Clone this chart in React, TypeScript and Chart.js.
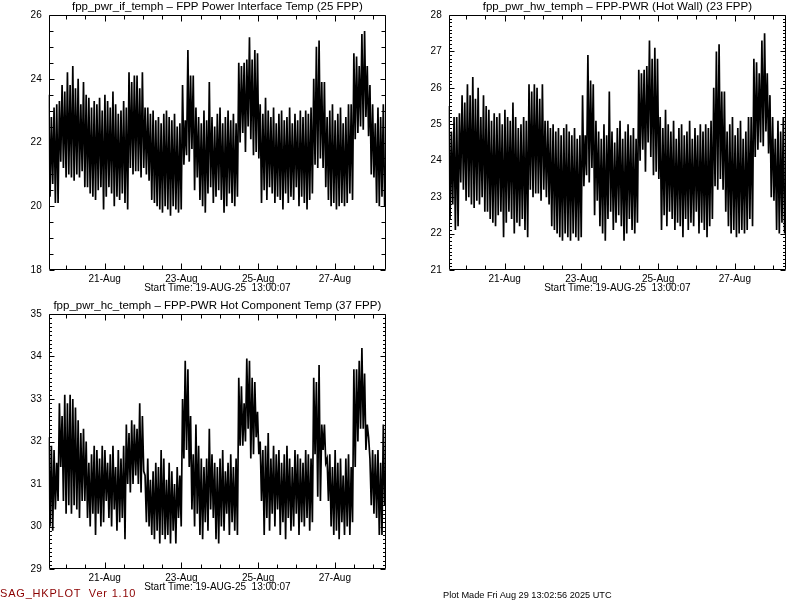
import React, { useEffect, useRef } from "react";
import { Chart, registerables } from "chart.js";

Chart.register(...registerables);

// ---- time axis (hours since start 19-AUG-25 13:00:07) ----
const SPAN_HOURS = 211;
const X_TICK_HOURS = [11, 23, 35, 47, 59, 71, 83, 95, 107, 119, 131, 143, 155, 167, 179, 191, 203];
const X_LABEL_HOURS = [35, 83, 131, 179];
const X_LABELS = ["21-Aug", "23-Aug", "25-Aug", "27-Aug"];
const X_TITLE = "Start Time: 19-AUG-25  13:00:07";

// ---- fpp_pwr_if_temph : orbit peaks / troughs ----
const IF_HI = [
  23.5, 22.8, 23.1, 23.2, 23.3, 23.8, 23.6, 24.2, 23.8, 24.4,
  23.7, 24.0, 23.2, 23.9, 23.5, 23.4, 23.1, 23.3, 23.2, 23.4,
  23.0, 23.5, 23.3, 23.1, 23.6, 23.2, 22.9, 23.0, 23.3, 23.1,
  24.2, 23.9, 24.1, 24.1, 23.7, 24.2, 23.1, 23.1, 22.9, 23.0,
  22.7, 22.8, 22.6, 22.9, 23.0, 22.8, 22.7, 22.9, 22.5, 22.6,
  23.8, 22.7, 24.9, 24.1, 24.1, 23.1, 22.8, 22.6, 23.0, 22.7,
  23.9, 22.8, 22.5, 22.9, 23.1, 22.6, 22.8, 23.0, 22.7, 22.9,
  22.6, 24.5, 24.4, 24.5, 24.6, 25.3, 24.6, 24.9, 24.8, 23.2,
  22.9, 23.4, 23.0, 22.8, 23.1, 22.6, 22.9, 23.0, 22.7, 22.8,
  23.1, 22.6, 22.9, 22.7, 23.0, 22.8, 23.0, 22.9, 23.1, 24.0,
  25.0, 25.2, 23.9, 23.9, 22.8, 23.0, 23.2, 22.7, 22.9, 23.1,
  22.6, 22.8, 23.2, 23.2, 24.8, 24.7, 24.4, 25.4, 25.5, 24.4,
  23.8, 23.2, 22.6, 23.1, 22.8, 23.2,
];
const IF_LO = [
  20.3, 20.7, 20.1, 20.1, 21.4, 21.2, 20.9, 21.0, 20.9, 20.8,
  21.0, 20.9, 21.1, 20.6, 20.6, 20.4, 20.3, 20.2, 20.5, 20.6,
  19.9, 20.3, 20.6, 20.4, 20.0, 20.3, 20.2, 20.4, 20.1, 19.9,
  21.2, 21.0, 21.1, 21.1, 20.9, 21.2, 21.0, 20.8, 20.2, 20.1,
  20.0, 19.9, 19.8, 20.0, 19.9, 19.7, 20.0, 19.9, 19.8, 19.9,
  21.3, 21.6, 21.4, 21.8, 20.5, 20.9, 20.2, 20.0, 19.8, 20.4,
  20.6, 20.1, 20.3, 20.5, 20.2, 19.8, 20.0, 20.4, 20.1, 20.0,
  20.3, 22.0, 22.3, 21.7, 22.5, 22.1, 21.6, 21.7, 21.5, 20.1,
  20.5, 20.2, 20.6, 20.4, 20.1, 20.3, 20.2, 19.9, 20.4, 20.1,
  20.3, 20.2, 20.6, 20.0, 20.3, 20.1, 19.9, 20.2, 20.4, 21.3,
  21.2, 21.5, 21.2, 20.6, 20.2, 20.0, 20.1, 19.9, 20.0, 20.1,
  20.0, 20.1, 20.4, 20.2, 22.1, 22.3, 22.5, 22.4, 22.8, 22.2,
  21.0, 20.9, 20.1, 20.0, 20.3, 20.0,
];

// ---- fpp_pwr_hw_temph ----
const HW_HI = [
  25.5, 24.8, 25.2, 25.2, 25.3, 25.8, 25.6, 26.1, 25.8, 26.3,
  25.7, 26.0, 25.2, 25.8, 25.5, 25.4, 25.1, 25.3, 25.2, 25.3,
  25.0, 25.4, 25.2, 25.1, 25.6, 25.2, 24.9, 25.0, 25.2, 25.1,
  26.1, 25.9, 26.1, 26.0, 25.7, 26.1, 25.1, 25.1, 24.9, 25.0,
  24.8, 24.9, 24.7, 24.9, 25.0, 24.8, 24.7, 24.9, 24.6, 24.7,
  25.8, 24.7, 26.9, 26.2, 26.1, 25.1, 24.8, 24.6, 25.0, 24.7,
  25.9, 24.8, 24.5, 24.9, 25.1, 24.6, 24.8, 25.0, 24.7, 24.9,
  24.6, 26.5, 26.4, 26.5, 26.6, 27.3, 26.8, 27.1, 26.8, 25.2,
  24.9, 25.4, 25.0, 24.8, 25.1, 24.6, 24.9, 25.0, 24.7, 24.8,
  25.1, 24.6, 24.9, 24.7, 25.0, 24.8, 25.0, 24.9, 25.1, 26.0,
  27.0, 27.2, 25.9, 25.9, 24.8, 25.0, 25.2, 24.7, 24.9, 25.1,
  24.6, 24.8, 25.2, 25.2, 26.8, 26.7, 26.4, 27.3, 27.5, 26.4,
  25.8, 25.2, 24.6, 25.1, 24.8, 25.2,
];
const HW_LO = [
  22.4, 22.8, 22.1, 22.2, 23.4, 23.2, 22.9, 23.0, 22.8, 22.7,
  22.9, 22.8, 23.0, 22.6, 22.6, 22.4, 22.3, 22.2, 22.5, 22.6,
  21.9, 22.3, 22.6, 22.4, 22.0, 22.3, 22.2, 22.4, 22.1, 21.9,
  23.2, 23.0, 23.1, 23.1, 22.9, 23.2, 23.0, 22.8, 22.2, 22.1,
  22.0, 21.9, 21.8, 22.0, 21.9, 21.8, 22.0, 21.9, 21.8, 21.9,
  23.3, 23.6, 23.4, 23.8, 22.5, 22.9, 22.2, 22.0, 21.8, 22.4,
  22.6, 22.1, 22.3, 22.5, 22.2, 21.8, 22.0, 22.4, 22.1, 22.0,
  22.3, 24.0, 24.3, 23.7, 24.5, 24.1, 23.6, 23.7, 23.5, 22.1,
  22.5, 22.2, 22.6, 22.4, 22.1, 22.3, 22.2, 21.9, 22.4, 22.1,
  22.3, 22.2, 22.6, 22.0, 22.3, 22.1, 21.9, 22.2, 22.4, 23.3,
  23.2, 23.5, 23.2, 22.6, 22.2, 22.0, 22.1, 21.9, 22.0, 22.1,
  22.0, 22.1, 22.4, 22.2, 24.1, 24.3, 24.5, 24.4, 24.8, 24.2,
  23.0, 22.9, 22.1, 22.0, 22.3, 22.0,
];

// ---- fpp_pwr_hc_temph ----
const HC_HI = [
  32.1, 31.9, 31.8, 31.5, 32.9, 32.6, 33.1, 32.9, 33.1, 33.0,
  32.8, 32.5, 32.2, 32.3, 32.0, 31.5, 31.7, 31.9, 31.8, 31.6,
  31.9, 31.8, 31.5, 31.7, 31.9, 31.4, 31.8, 31.6, 31.9, 32.4,
  32.2, 32.5, 32.4, 32.3, 32.9, 32.6, 31.2, 31.6, 31.1, 31.3,
  31.5, 31.4, 31.8, 31.6, 31.1, 31.5, 31.3, 31.0, 31.4, 31.2,
  33.0, 33.9, 33.7, 32.6, 31.7, 32.4, 31.9, 31.6, 31.4, 31.6,
  32.3, 31.7, 31.5, 31.4, 31.6, 31.8, 31.3, 31.5, 31.7, 31.4,
  31.6, 33.5, 33.3, 32.9, 33.95, 33.9, 33.5, 33.4, 32.7, 32.0,
  31.8, 31.9, 32.2, 31.6, 31.9, 31.7, 31.8, 31.5, 31.7, 31.9,
  31.6, 31.4, 31.8, 31.7, 31.6, 31.5, 31.8, 31.7, 31.6, 33.5,
  33.4, 33.8, 32.4, 32.4, 31.6, 31.7, 31.4, 31.8, 31.5, 31.6,
  31.2, 31.6, 31.7, 31.4, 33.7, 33.7, 33.9, 34.2, 33.6, 32.4,
  31.6, 31.8, 31.7, 31.8, 31.5, 32.4,
];
const HC_LO = [
  30.0, 29.9, 30.4, 30.6, 31.4, 30.6, 30.3, 30.5, 30.3, 30.5,
  30.4, 30.2, 30.6, 30.6, 30.2, 30.0, 30.3, 29.8, 30.3, 30.0,
  30.1, 30.6, 30.2, 30.0, 30.4, 29.9, 30.1, 30.2, 29.7, 31.0,
  30.8, 31.0, 31.2, 31.0, 30.8, 31.3, 30.1, 30.0, 29.8, 29.7,
  29.9, 29.6, 29.8, 29.7, 29.8, 29.6, 29.9, 29.6, 30.2, 30.0,
  31.6, 31.8, 31.4, 30.4, 30.0, 30.3, 29.8, 29.7, 30.1, 29.9,
  30.4, 30.2, 29.7, 29.6, 30.0, 29.9, 30.3, 29.8, 30.1, 29.9,
  29.8, 31.9, 31.9, 32.0, 32.3, 31.6, 31.7, 32.1, 31.7, 30.6,
  29.8, 30.2, 29.9, 30.3, 30.0, 30.4, 29.8, 30.1, 29.7, 30.2,
  29.9, 30.0, 30.3, 29.8, 30.1, 30.0, 30.2, 29.9, 30.1, 31.7,
  30.7, 30.6, 31.8, 31.5, 30.6, 30.0, 29.8, 29.9, 29.7, 30.1,
  29.8, 30.0, 29.8, 30.1, 31.4, 32.0, 32.3, 32.3, 31.8, 32.1,
  30.5, 30.3, 30.2, 29.8, 29.8, 30.5,
];

const FONT = "'Liberation Sans', Arial, sans-serif";

function toPoints(hi: number[], lo: number[]) {
  const step = SPAN_HOURS / hi.length;
  const pts: { x: number; y: number }[] = [];
  hi.forEach((h, i) => {
    pts.push({ x: i * step, y: h });
    pts.push({ x: i * step + step / 2, y: lo[i] });
  });
  return pts;
}

const framePlugin = {
  id: "frame",
  afterDatasetsDraw(chart: any, _args: any, opts: any) {
    const { ctx, chartArea, scales } = chart;
    const x = scales.x;
    const y = scales.y;
    const L = Math.round(chartArea.left) + 0.5;
    const R = Math.round(chartArea.right) - 0.5;
    const T = Math.round(chartArea.top) + 0.5;
    const B = Math.round(chartArea.bottom) - 0.5;
    ctx.save();
    ctx.strokeStyle = "#000";
    ctx.lineWidth = 1;
    ctx.beginPath();
    ctx.rect(L, T, R - L, B - T);
    X_TICK_HOURS.forEach((h) => {
      const px = Math.round(x.getPixelForValue(h)) + 0.5;
      const len = X_LABEL_HOURS.includes(h) ? 6 : 4;
      ctx.moveTo(px, B);
      ctx.lineTo(px, B - len);
      ctx.moveTo(px, T);
      ctx.lineTo(px, T + len);
    });
    const n = Math.round((opts.max - opts.min) / opts.minor);
    for (let k = 0; k <= n; k++) {
      const v = opts.min + k * opts.minor;
      const q = (v - opts.min) / opts.major;
      const major = Math.abs(q - Math.round(q)) < 1e-6;
      const len = major ? opts.majorLen : opts.minorLen;
      const py = Math.round(y.getPixelForValue(v)) + 0.5;
      ctx.moveTo(L, py);
      ctx.lineTo(L + len, py);
      ctx.moveTo(R, py);
      ctx.lineTo(R - len, py);
    }
    ctx.stroke();
    // panel title centred over the plot area
    ctx.fillStyle = "#000";
    ctx.font = "11.5px " + FONT;
    ctx.textAlign = "center";
    ctx.textBaseline = "alphabetic";
    ctx.fillText(opts.title, (chartArea.left + chartArea.right) / 2, chartArea.top - 5.5);
    ctx.restore();
  },
};

type PanelProps = {
  title: string;
  hi: number[];
  lo: number[];
  yMin: number;
  yMax: number;
  yStep: number;
  yMinor: number;
  majorLen: number;
  minorLen: number;
  left: number;
  top: number;
};

function Panel(p: PanelProps) {
  const ref = useRef<HTMLCanvasElement>(null);
  useEffect(() => {
    if (!ref.current) return;
    const chart = new Chart(ref.current, {
      type: "line",
      data: {
        datasets: [
          {
            data: toPoints(p.hi, p.lo),
            borderColor: "#000",
            borderWidth: 1.7,
            pointRadius: 0,
            tension: 0,
            fill: false,
          },
        ],
      },
      options: {
        animation: false,
        responsive: false,
        events: [],
        layout: { padding: { left: 0, right: 14, top: 15, bottom: 0 } },
        plugins: {
          legend: { display: false },
          tooltip: { enabled: false },
          title: { display: false },
          frame: {
            title: p.title,
            min: p.yMin,
            max: p.yMax,
            major: p.yStep,
            minor: p.yMinor,
            majorLen: p.majorLen,
            minorLen: p.minorLen,
          },
        } as any,
        scales: {
          x: {
            type: "linear",
            min: 0,
            max: SPAN_HOURS,
            grid: { display: false, drawTicks: false },
            border: { display: false },
            afterBuildTicks: (s: any) => {
              s.ticks = X_LABEL_HOURS.map((v) => ({ value: v }));
            },
            afterFit: (s: any) => {
              s.height = 30;
            },
            ticks: {
              color: "#000",
              padding: 3,
              maxRotation: 0,
              autoSkip: false,
              font: { family: FONT, size: 10 },
              callback: (v: any) => {
                const i = X_LABEL_HOURS.indexOf(Number(v));
                return i >= 0 ? X_LABELS[i] : "";
              },
            },
            title: {
              display: true,
              text: X_TITLE,
              color: "#000",
              font: { family: FONT, size: 10 },
              padding: { top: 0, bottom: 6 },
            },
          },
          y: {
            min: p.yMin,
            max: p.yMax,
            grid: { display: false, drawTicks: false },
            border: { display: false },
            afterFit: (s: any) => {
              s.width = 48.7;
            },
            ticks: {
              stepSize: p.yStep,
              color: "#000",
              padding: 7,
              font: { family: FONT, size: 10 },
            },
          },
        },
      },
      plugins: [framePlugin as any],
    });
    return () => chart.destroy();
  }, []);
  return (
    <canvas
      ref={ref}
      width={400}
      height={300}
      style={{ position: "absolute", left: p.left, top: p.top, width: 400, height: 300 }}
    />
  );
}

export default function App() {
  return (
    <div
      style={{
        position: "absolute",
        left: 0,
        top: 0,
        width: 800,
        height: 600,
        background: "#fff",
        overflow: "hidden",
      }}
    >
      <Panel
        title="fpp_pwr_if_temph – FPP Power Interface Temp (25 FPP)"
        hi={IF_HI}
        lo={IF_LO}
        yMin={18}
        yMax={26}
        yStep={2}
        yMinor={0.5}
        majorLen={5}
        minorLen={4}
        left={0}
        top={0}
      />
      <Panel
        title="fpp_pwr_hw_temph – FPP-PWR (Hot Wall) (23 FPP)"
        hi={HW_HI}
        lo={HW_LO}
        yMin={21}
        yMax={28}
        yStep={1}
        yMinor={0.1}
        majorLen={5}
        minorLen={2.5}
        left={400}
        top={0}
      />
      <Panel
        title="fpp_pwr_hc_temph – FPP-PWR Hot Component Temp (37 FPP)"
        hi={HC_HI}
        lo={HC_LO}
        yMin={29}
        yMax={35}
        yStep={1}
        yMinor={0.1}
        majorLen={5}
        minorLen={2.5}
        left={0}
        top={299}
      />
      <div
        style={{
          position: "absolute",
          left: 0,
          top: 587,
          fontFamily: FONT,
          fontSize: 11,
          lineHeight: "12px",
          letterSpacing: "0.8px",
          color: "#8b0000",
          whiteSpace: "pre",
        }}
      >
        {"SAG_HKPLOT  Ver 1.10"}
      </div>
      <div
        style={{
          position: "absolute",
          left: 443,
          top: 590,
          fontFamily: FONT,
          fontSize: 9.2,
          lineHeight: "10px",
          color: "#000",
          whiteSpace: "pre",
        }}
      >
        {"Plot Made Fri Aug 29 13:02:56 2025 UTC"}
      </div>
    </div>
  );
}
